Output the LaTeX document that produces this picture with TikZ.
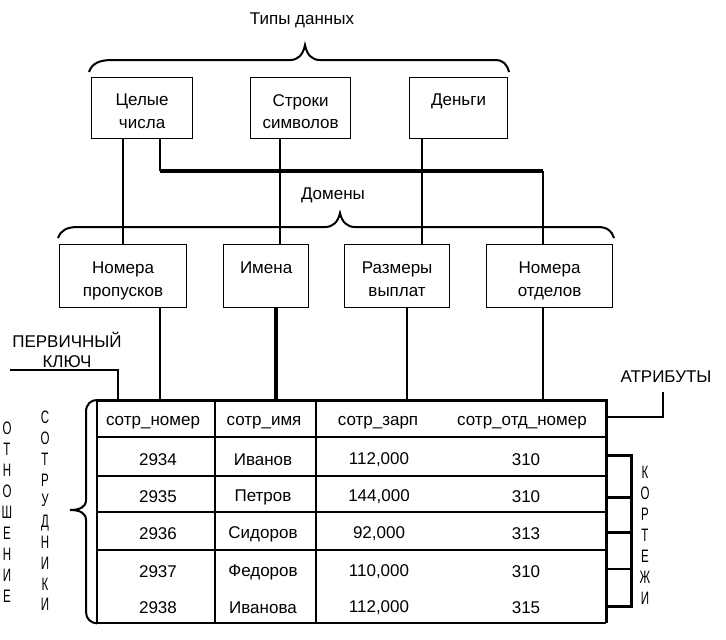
\documentclass[tikz,border=0pt]{standalone}
\usepackage{fontspec}
\setmainfont{Liberation Sans}
\newfontfamily\narrowfont{Liberation Sans}[FakeStretch=0.64]
\begin{document}
\begin{tikzpicture}[x=1pt,y=-1pt,
  box/.style={draw, line width=1.2pt, inner sep=0pt, anchor=north west},
  btxt/.style={inner sep=0pt, anchor=north, align=center,
    font=\fontsize{17}{22.5}\selectfont},
  lbl/.style={inner sep=0pt, font=\fontsize{17}{21}\selectfont},
  cell/.style={inner sep=0pt, font=\fontsize{17}{21}\selectfont},
  vstack/.style={inner sep=0pt, align=center, font=\narrowfont\fontsize{18}{21}\selectfont},
  conn/.style={line width=2.4pt},
  bus/.style={line width=4.5pt},
  brace/.style={line width=2pt},
  gridline/.style={line width=1.3pt},
  frame/.style={line width=3pt},
  frameth/.style={line width=2pt}]
\useasboundingbox (0,0) rectangle (726,640);
\fill[white] (0,0) rectangle (726,640);

% labels
\node[lbl] (tipy) at (302,20) {Типы данных};
\node[lbl] (domeny) at (333,195) {Домены};
\node[lbl] (pk1) at (67,340) {ПЕРВИЧНЫЙ};
\node[lbl] (pk2) at (67,362) {КЛЮЧ};
\node[lbl] (attr) at (666,377) {АТРИБУТЫ};

% braces
\draw[brace] (89,72) .. controls (92,63) and (100,60) .. (112,60) -- (290,60)
  .. controls (298,60) and (303,55) .. (305,45)
  .. controls (307,55) and (312,60) .. (320,60) -- (495,60)
  .. controls (503,60) and (507,64) .. (509,72);
\draw[brace] (58,238) .. controls (61,230) and (67,227) .. (78,227) -- (325,227)
  .. controls (333,227) and (338,222) .. (340,213)
  .. controls (342,222) and (347,227) .. (355,227) -- (598,227)
  .. controls (607,227) and (612,231) .. (614,238);

% data type boxes
\node[box, minimum width=101pt, minimum height=61pt] (celye) at (91,77) {};
\node[box, minimum width=100pt, minimum height=61pt] (stroki) at (250,77) {};
\node[box, minimum width=98pt, minimum height=61pt] (dengi) at (409,77) {};
\node[btxt] (celyeT) at ([yshift=-17pt]celye.north) {Целые\\числа};
\node[btxt] (strokiT) at ([yshift=-17pt]stroki.north) {Строки\\символов};
\node[btxt] (dengiT) at ([yshift=-17pt]dengi.north) {Деньги};

% domain boxes
\node[box, minimum width=127pt, minimum height=63pt] (nomprop) at (59,244) {};
\node[box, minimum width=85pt, minimum height=63pt] (imena) at (223,244) {};
\node[box, minimum width=105pt, minimum height=63pt] (razmery) at (344,244) {};
\node[box, minimum width=126pt, minimum height=63pt] (nomotd) at (486,244) {};
\node[btxt] (nompropT) at ([yshift=-18pt]nomprop.north) {Номера\\пропусков};
\node[btxt] (imenaT) at ([yshift=-18pt]imena.north) {Имена};
\node[btxt] (razmeryT) at ([yshift=-18pt]razmery.north) {Размеры\\выплат};
\node[btxt] (nomotdT) at ([yshift=-18pt]nomotd.north) {Номера\\отделов};

% table frame
\node[minimum width=509pt, minimum height=223pt, inner sep=0pt, anchor=north west] (tbl) at (97,400) {};

% x positions of connectors
\coordinate (k1) at (123,0);
\coordinate (k2) at (160,0);
\coordinate (k3) at (280,0);
\coordinate (k4) at (422,0);
\coordinate (k5) at (543,0);
\coordinate (d2) at (276,0);
\coordinate (d3) at (407,0);
\coordinate (busy) at (0,171);
\coordinate (pkx) at (118,0);
\coordinate (pkend) at (10,370);
\coordinate (atx) at (663,0);
\coordinate (atend) at (663,392);

% connectors types -> domains
\draw[conn] (celye.south -| k1) -- (nomprop.north -| k1);
\draw[conn] (celye.south -| k2) -- (k2 |- busy);
\draw[bus] (k2 |- busy) -- (k5 |- busy);
\draw[conn] (k5 |- busy) -- (nomotd.north -| k5);
\draw[conn] (stroki.south -| k3) -- (imena.north -| k3);
\draw[conn] (dengi.south -| k4) -- (razmery.north -| k4);

% connectors domains -> table
\draw[conn] (nomprop.south -| k2) -- (tbl.north -| k2);
\draw[line width=3.4pt] (imena.south -| d2) -- (tbl.north -| d2);
\draw[conn] (razmery.south -| d3) -- (tbl.north -| d3);
\draw[conn] (nomotd.south -| k5) -- (tbl.north -| k5);

% primary key
\draw[conn] (pkend) -- (pkx |- pkend) -- (tbl.north -| pkx);

% attributes
\draw[conn] (tbl.east |- 0,417) -- (atx |- 0,417) -- (atend);

% table lines
\draw[gridline] ([yshift=-37pt]tbl.north west) -- ([yshift=-37pt]tbl.north east);
\draw[gridline] ([yshift=-76pt]tbl.north west) -- ([yshift=-76pt]tbl.north east);
\draw[gridline] ([yshift=-112pt]tbl.north west) -- ([yshift=-112pt]tbl.north east);
\draw[gridline] ([yshift=-150pt]tbl.north west) -- ([yshift=-150pt]tbl.north east);
\draw[gridline] ([xshift=118pt]tbl.north west) -- ([xshift=118pt]tbl.south west);
\draw[gridline] ([xshift=219pt]tbl.north west) -- ([xshift=219pt]tbl.south west);
\draw[frameth] (tbl.north west) -- (tbl.south west) -- (tbl.south east);
\draw[frame] (tbl.north west) -- (tbl.north east) -- (tbl.south east);

% header
\node[cell] (h1) at (153,423) {сотр\_номер};
\node[cell] (h2) at (264,423) {сотр\_имя};
\node[cell] (h3) at (378,423) {сотр\_зарп};
\node[cell] (h4) at (522,423) {сотр\_отд\_номер};

% rows
\node[cell] (a1) at (158,460) {2934};
\node[cell] (b1) at (263,460) {Иванов};
\node[cell] (c1) at (379,460) {112,000};
\node[cell] (e1) at (526,460) {310};
\node[cell] (a2) at (158,497) {2935};
\node[cell] (b2) at (263,497) {Петров};
\node[cell] (c2) at (379,497) {144,000};
\node[cell] (e2) at (526,497) {310};
\node[cell] (a3) at (158,534) {2936};
\node[cell] (b3) at (263,534) {Сидоров};
\node[cell] (c3) at (379,534) {92,000};
\node[cell] (e3) at (526,534) {313};
\node[cell] (a4) at (158,572) {2937};
\node[cell] (b4) at (263,572) {Федоров};
\node[cell] (c4) at (379,572) {110,000};
\node[cell] (e4) at (526,572) {310};
\node[cell] (a5) at (158,608) {2938};
\node[cell] (b5) at (263,608) {Иванова};
\node[cell] (c5) at (379,608) {112,000};
\node[cell] (e5) at (526,608) {315};

% left brace of relation
\draw[frameth] (tbl.north west) .. controls (91,400) and (86,404) .. (86,412) -- (86,500)
  .. controls (86,507) and (80,510) .. (70,510)
  .. controls (80,510) and (86,513) .. (86,520) -- (86,612)
  .. controls (86,619) and (91,623) .. (tbl.south west);

% tuples bracket
\draw[frame] (tbl.east |- 0,455) -- (631,455) -- (631,606) -- (tbl.east |- 0,606);
\draw[frame] (tbl.east |- 0,497) -- (631,497);
\draw[frame] (tbl.east |- 0,532) -- (631,532);
\draw[gridline] (tbl.east |- 0,569) -- (631,569);

% vertical words
\node[vstack] (otn) at (7,512) {О\\Т\\Н\\О\\Ш\\Е\\Н\\И\\Е};
\node[vstack, font=\narrowfont\fontsize{18}{20.8}\selectfont] (sotr) at (45,511) {С\\О\\Т\\Р\\У\\Д\\Н\\И\\К\\И};
\node[vstack] (kort) at (645,535) {К\\О\\Р\\Т\\Е\\Ж\\И};
\end{tikzpicture}
\end{document}
